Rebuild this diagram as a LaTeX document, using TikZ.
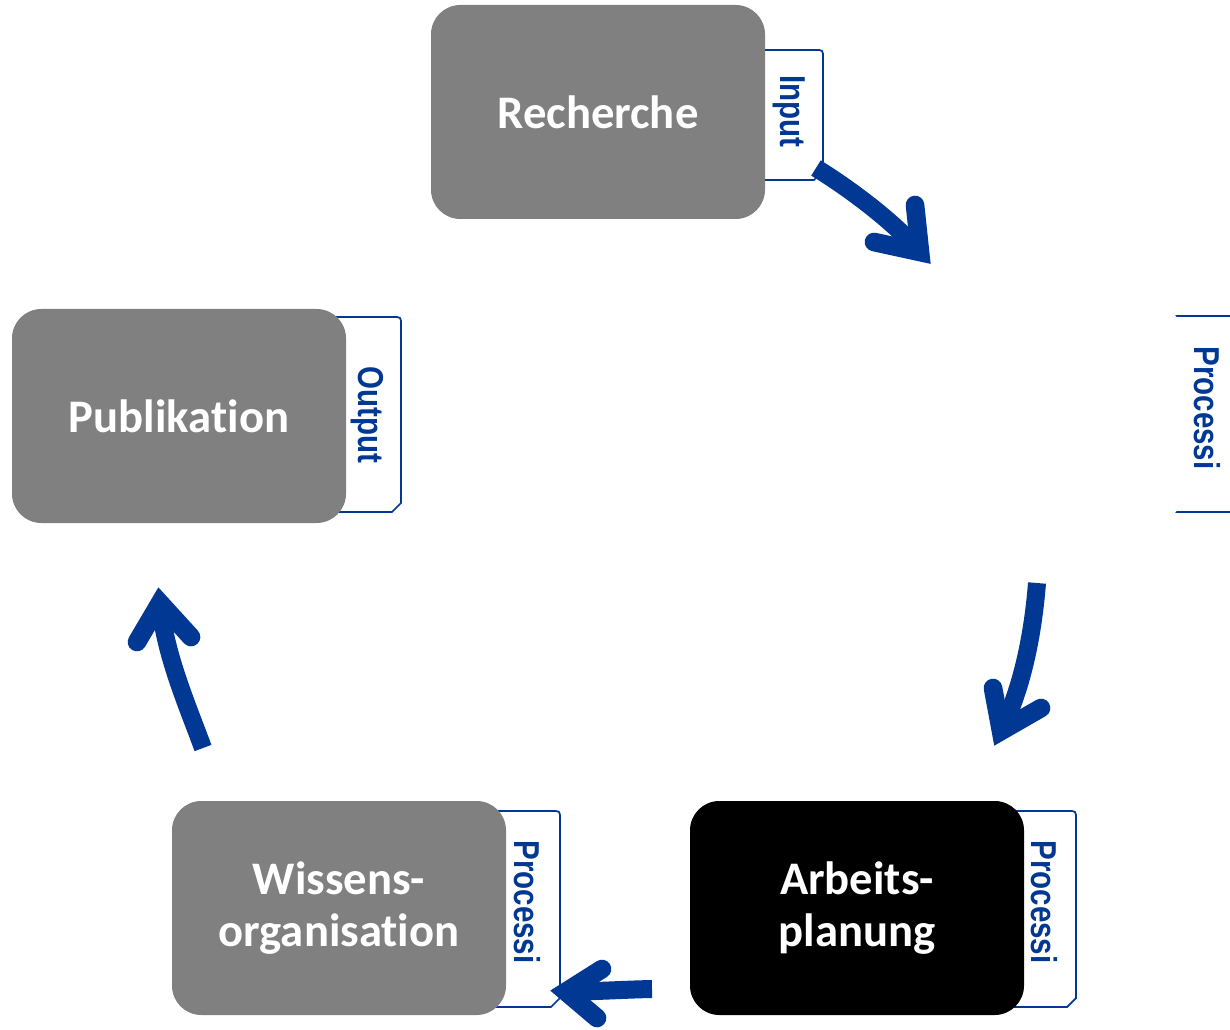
\documentclass[tikz,border=0pt]{standalone}
\usepackage{fontspec}
\setmainfont[Ligatures=NoCommon]{Carlito}
\newfontfamily\tabfont[FakeStretch=0.82,Ligatures=NoCommon]{Liberation Sans}
\definecolor{boxgray}{RGB}{128,128,128}
\definecolor{cycblue}{RGB}{0,56,147}
\begin{document}
\begin{tikzpicture}[x=0.75pt,y=-0.75pt,
  stagebox/.style={rectangle, rounded corners=22pt, minimum width=250.5pt, minimum height=160.5pt,
    inner sep=0pt, fill=boxgray, text=white, align=center,
    font=\fontsize{35}{39}\selectfont\bfseries},
  tabline/.style={draw=cycblue, line width=1.3pt},
  tablabel/.style={text=cycblue, rotate=-90, inner sep=0pt,
    font=\tabfont\fontsize{27}{27}\selectfont\bfseries},
  shaft/.style={draw=cycblue, line width=13.5pt, line cap=butt},
  headtip/.style={draw=cycblue, line width=14pt, line cap=round, line join=miter, miter limit=20}]
\useasboundingbox (0,0) rectangle (1230,1030);
\clip (0,0) rectangle (1230,1030);

% tabs (drawn first, boxes hide their left parts)
\draw[tabline] (740,50) -- (815,50) .. controls (823,50) .. (823,58) -- (823,171) -- (814,180) -- (740,180);
\draw[tabline] (320,317) -- (393,317) .. controls (401,317) .. (401,325) -- (401,503) -- (392,512) -- (320,512);
\draw[tabline] (480,811) -- (552,811) .. controls (560,811) .. (560,819) -- (560,998) -- (551,1007) -- (480,1007);
\draw[tabline] (1000,811) -- (1068,811) .. controls (1076,811) .. (1076,819) -- (1076,998) -- (1067,1007) -- (1000,1007);
\draw[tabline] (1160,316) -- (1250,316);
\draw[tabline] (1160,512) -- (1250,512);

% boxes
\node[stagebox] (rech) at (598,112) {Recherche};
\node[stagebox] (publ) at (179,416) {Publikation};
\node[stagebox] (wiss) at (339,908) {Wissens-\\organisation};
\node[stagebox, fill=black] (arb) at (857,908) {Arbeits-\\planung};
\node[stagebox, fill=white] (proc) at (1017,414) {};

% tab labels
\node[tablabel] (tin) at (789.5,111.5) {Input};
\node[tablabel] (tout) at (367.5,415) {Output};
\node[tablabel] (tp1) at (1207,408) {Processi};
\node[tablabel] (tp2) at (1044.5,902) {Processi};
\node[tablabel] (tp3) at (527.5,902) {Processi};

% arrow 1: Recherche -> right
\coordinate (a1s) at (816,168);
\coordinate (a1c) at (920,252);
\coordinate (a1l) at (915,205);
\coordinate (a1r) at (874,242);
\draw[shaft] (a1s) .. controls (850,189) and (893,221) .. (a1c);
\draw[headtip] (a1l) -- (a1c) -- (a1r);

% arrow 2: right -> Arbeitsplanung
\coordinate (a2s) at (1037,583);
\coordinate (a2c) at (1001,731);
\coordinate (a2l) at (993,688);
\coordinate (a2r) at (1041,708);
\draw[shaft] (a2s) .. controls (1033,633) and (1023,686) .. (a2c);
\draw[headtip] (a2l) -- (a2c) -- (a2r);

% arrow 3: Arbeitsplanung -> Wissensorganisation
\coordinate (a3s) at (652,989);
\coordinate (a3c) at (566,991.7);
\coordinate (a3l) at (602,969);
\coordinate (a3r) at (597,1018);
\draw[shaft] (a3s) .. controls (625,989.5) and (595,991.5) .. (a3c);
\draw[headtip] (a3l) -- (a3c) -- (a3r);

% arrow 4: Wissensorganisation -> Publikation
\coordinate (a4s) at (203,748);
\coordinate (a4c) at (160,603);
\coordinate (a4l) at (137,642);
\coordinate (a4r) at (191,637);
\draw[shaft] (a4s) .. controls (186,702) and (165,654) .. (a4c);
\draw[headtip] (a4l) -- (a4c) -- (a4r);
\end{tikzpicture}
\end{document}
